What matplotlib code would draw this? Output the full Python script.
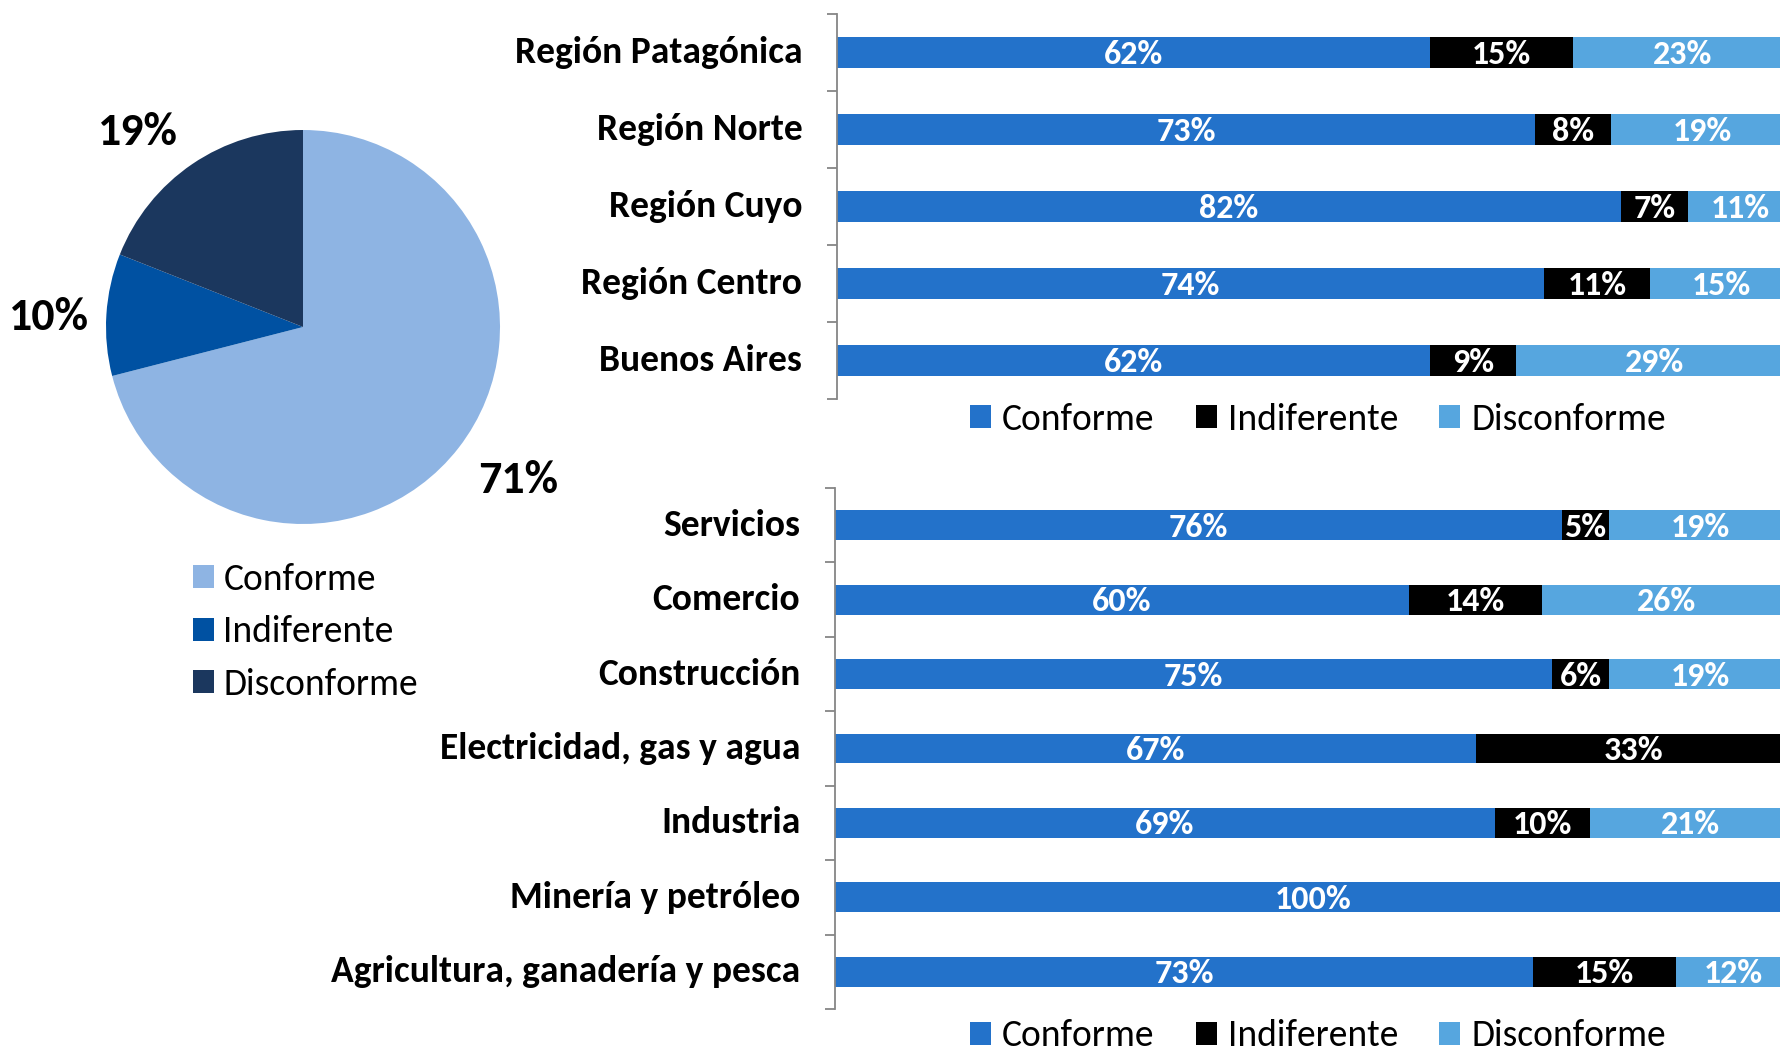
import matplotlib
matplotlib.use("Agg")
import matplotlib.pyplot as plt
from matplotlib import font_manager
from matplotlib.patches import Patch
import matplotlib.transforms as mtrans
import numpy as np

# ---------------- data ----------------
pie_labels = ["Conforme", "Indiferente", "Disconforme"]
pie_values = [71, 10, 19]

regions = ["Región Patagónica", "Región Norte", "Región Cuyo", "Región Centro", "Buenos Aires"]
reg_conf = [62, 73, 82, 74, 62]
reg_ind = [15, 8, 7, 11, 9]
reg_dis = [23, 19, 11, 15, 29]

sectors = ["Servicios", "Comercio", "Construcción", "Electricidad, gas y agua",
           "Industria", "Minería y petróleo", "Agricultura, ganadería y pesca"]
sec_conf = [76, 60, 75, 67, 69, 100, 73]
sec_ind = [5, 14, 6, 33, 10, 0, 15]
sec_dis = [19, 26, 19, 0, 21, 0, 12]

series_names = ["Conforme", "Indiferente", "Disconforme"]

# ---------------- style ----------------
names = {f.name for f in font_manager.fontManager.ttflist}
FONT = "DejaVu Sans"
for cand in ["Carlito", "Calibri", "Liberation Sans Narrow", "DejaVu Sans"]:
    if cand in names:
        FONT = cand
        break
if FONT in ("Carlito", "Calibri"):
    FS_CAT, FS_PCT, FS_PIE, FS_LEG = 27, 24.5, 33, 27
else:
    FS_CAT, FS_PCT, FS_PIE, FS_LEG = 25, 22, 31, 26

plt.rcParams["font.family"] = [FONT, "DejaVu Sans"]

PIE_COLORS = ["#8EB4E3", "#0051A2", "#1B375E"]
BAR_COLORS = ["#2372CA", "#000000", "#56A6DF"]
AXIS_GRAY = "#868686"

W, H = 1781, 1050
DPI = 100
fig = plt.figure(figsize=(W / DPI, H / DPI), dpi=DPI)


def fx(px):
    return px / W


def fy(px):
    return 1 - px / H


def shift_px(dx, dy):
    return mtrans.ScaledTranslation(dx / DPI, dy / DPI, fig.dpi_scale_trans)


# ---------------- pie ----------------
R = 197.0
cx, cy = 303, 327
half = 250
ax_pie = fig.add_axes([fx(cx - half), fy(cy + half), 2 * half / W, 2 * half / H])
lim = half / R
wedges, texts = ax_pie.pie(pie_values, colors=PIE_COLORS, startangle=90, counterclock=False,
                           labels=[f"{v}%" for v in pie_values], labeldistance=1.15,
                           textprops=dict(fontsize=FS_PIE, fontweight="bold", color="black"),
                           wedgeprops=dict(linewidth=0))
ax_pie.set_xlim(-lim, lim)
ax_pie.set_ylim(-lim, lim)
ax_pie.set_aspect("equal")
ax_pie.axis("off")

# Excel-like "outside end" placement: label box pushed outside the pie at the mid-angle
fig.canvas.draw()
renderer = fig.canvas.get_renderer()
for w, t in zip(wedges, texts):
    ang = np.deg2rad((w.theta1 + w.theta2) / 2)
    ux, uy = np.cos(ang), np.sin(ang)
    t.set_ha("center")
    t.set_va("center")
    bb = t.get_window_extent(renderer)
    tw, th = bb.width, bb.height * 0.72
    steep = abs(uy) > 0.3
    gap = 25.0 if steep else 17.0
    d = 1 + gap / R
    t.set_position((d * ux, d * uy))
    offx = np.sign(ux) * tw / 2
    offy = np.sign(uy) * th / 2 if steep else 0.0
    t.set_transform(ax_pie.transData + shift_px(offx, offy - 3))

pie_handles = [Patch(facecolor=c, edgecolor="none") for c in PIE_COLORS]
fig.legend(pie_handles, pie_labels, loc="upper left", bbox_to_anchor=(fx(193), fy(563)),
           frameon=False, fontsize=FS_LEG, handlelength=0.56, handleheight=0.56,
           handletextpad=0.25, labelspacing=0.52, borderpad=0, borderaxespad=0)


# ---------------- stacked bars ----------------
def stacked(ax, cats, conf, ind, dis):
    n = len(cats)
    y = np.arange(n)
    left = np.zeros(n)
    for vals, col in zip([conf, ind, dis], BAR_COLORS):
        v = np.array(vals, dtype=float) / 100.0
        ax.barh(y, v, left=left, height=0.40, color=col, edgecolor="none")
        for yi, (l, w) in enumerate(zip(left, v)):
            if w > 0:
                ax.text(l + w / 2, yi, f"{int(round(w * 100))}%", ha="center", va="center",
                        color="white", fontsize=FS_PCT, fontweight="bold",
                        transform=ax.transData + shift_px(0, -2))
        left = left + v
    ax.set_xlim(0, 1)
    ax.set_ylim(n - 0.5, -0.5)
    ax.set_yticks(y)
    ax.set_yticklabels(cats, fontsize=FS_CAT, fontweight="bold")
    ax.set_yticks(np.arange(n + 1) - 0.5, minor=True)
    ax.tick_params(axis="y", which="major", length=0, pad=25)
    ax.tick_params(axis="y", which="minor", length=7, width=1.3, color=AXIS_GRAY, direction="out")
    ax.set_xticks([])
    for lab in ax.get_yticklabels():
        lab.set_transform(lab.get_transform() + shift_px(0, 3))
    for s in ["top", "right", "bottom"]:
        ax.spines[s].set_visible(False)
    ax.spines["left"].set_color(AXIS_GRAY)
    ax.spines["left"].set_linewidth(1.3)


AXW = 956
ax_top = fig.add_axes([fx(837), fy(399), AXW / W, (399 - 13.6) / H])
stacked(ax_top, regions, reg_conf, reg_ind, reg_dis)

ax_bot = fig.add_axes([fx(835), fy(1009), AXW / W, (1009 - 488) / H])
stacked(ax_bot, sectors, sec_conf, sec_ind, sec_dis)

bar_handles = [Patch(facecolor=c, edgecolor="none") for c in BAR_COLORS]
leg_kw = dict(loc="center", ncol=3, frameon=False, fontsize=FS_LEG, handlelength=0.56,
              handleheight=0.56, handletextpad=0.3, columnspacing=1.1, borderpad=0)
fig.legend(bar_handles, series_names, bbox_to_anchor=(fx(1318), fy(419)), **leg_kw)
fig.legend(bar_handles, series_names, bbox_to_anchor=(fx(1318), fy(1036)), **leg_kw)

fig.savefig("out.png", dpi=DPI)
